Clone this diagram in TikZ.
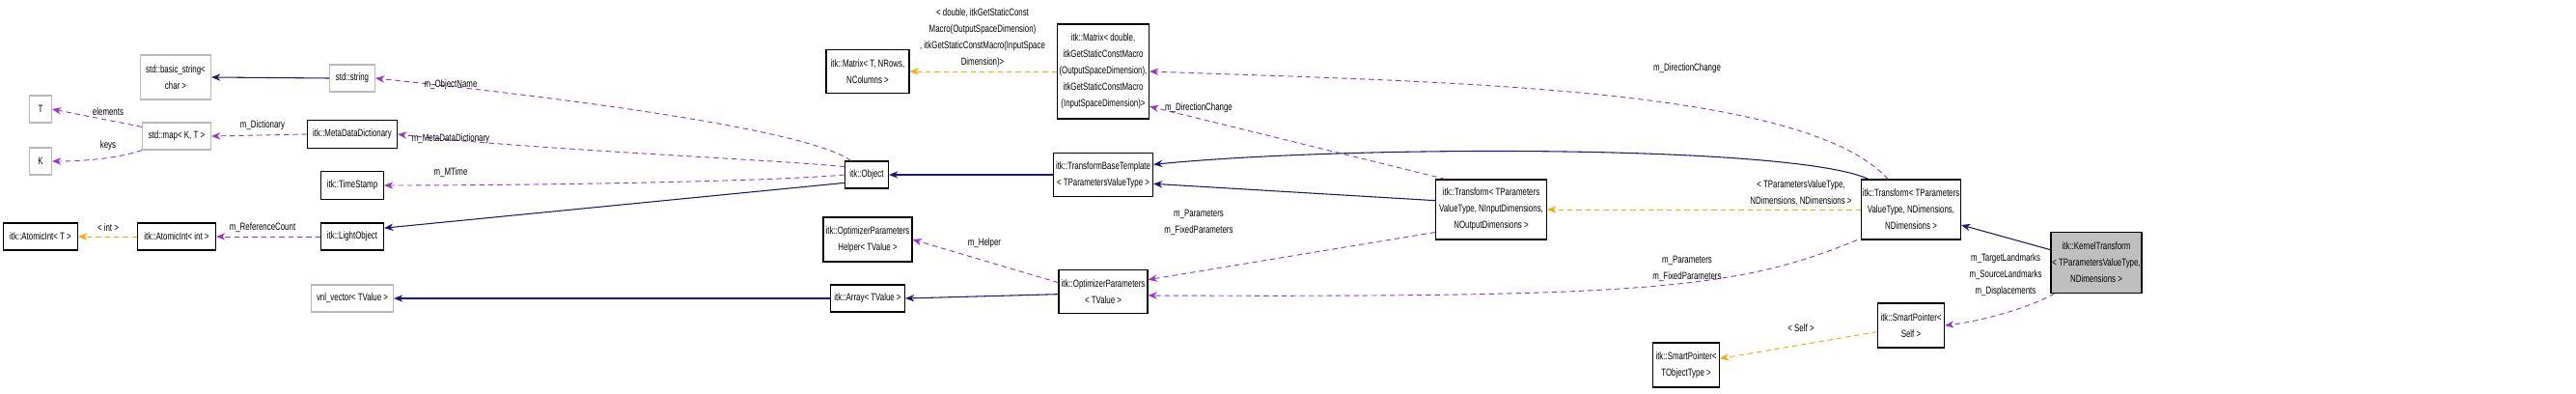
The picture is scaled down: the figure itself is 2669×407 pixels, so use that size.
\documentclass[tikz,border=0pt]{standalone}
\usepackage{fontspec}
\setmainfont{Liberation Sans}[FakeStretch=0.74]
\usetikzlibrary{arrows.meta}
\definecolor{navy}{HTML}{191970}
\definecolor{purp}{HTML}{9A32CD}
\definecolor{orng}{HTML}{FFA500}
\begin{document}
\begin{tikzpicture}[x=0.75pt,y=-0.75pt,
  font=\fontsize{8}{12.8}\selectfont,
  box/.style={draw=black,line width=0.8pt,align=center,inner sep=1pt,fill=white},
  ubox/.style={draw=gray!55,line width=0.8pt,align=center,inner sep=1pt,fill=white},
  tip/.style={-{Stealth[length=7pt,width=5.5pt]}},
  inh/.style={tip,draw=navy,line width=0.8pt},
  mem/.style={tip,draw=purp,dashed,dash pattern=on 4pt off 3pt,line width=0.7pt},
  tpl/.style={tip,draw=orng,dashed,dash pattern=on 4pt off 3pt,line width=0.7pt},
  lab/.style={align=center,inner sep=0pt}]
\useasboundingbox (0,0) rectangle (2669,407);
% nodes
\node[ubox,minimum width=73*0.75pt,minimum height=46*0.75pt] (bs) at (182,80) {std::basic\_string\textless\\char \textgreater};
\node[ubox,minimum width=47*0.75pt,minimum height=28*0.75pt] (str) at (365,81) {std::string};
\node[ubox,minimum width=23*0.75pt,minimum height=28*0.75pt] (T) at (42,113) {T};
\node[ubox,minimum width=23*0.75pt,minimum height=28*0.75pt] (K) at (42,167) {K};
\node[ubox,minimum width=71*0.75pt,minimum height=28*0.75pt] (map) at (183,141) {std::map\textless{} K, T \textgreater};
\node[box,minimum width=93*0.75pt,minimum height=29*0.75pt] (mdd) at (365,139) {itk::MetaDataDictionary};
\node[box,minimum width=65*0.75pt,minimum height=29*0.75pt] (ts) at (365,192) {itk::TimeStamp};
\node[box,minimum width=77*0.75pt,minimum height=28*0.75pt] (aiT) at (42,245) {itk::AtomicInt\textless{} T \textgreater};
\node[box,minimum width=81*0.75pt,minimum height=28*0.75pt] (aiI) at (183,245) {itk::AtomicInt\textless{} int \textgreater};
\node[box,minimum width=65*0.75pt,minimum height=28*0.75pt] (lo) at (365,245) {itk::LightObject};
\node[ubox,minimum width=85*0.75pt,minimum height=28*0.75pt] (vnl) at (365,309) {vnl\_vector\textless{} TValue \textgreater};
\node[box,minimum width=45*0.75pt,minimum height=28*0.75pt] (obj) at (898,181) {itk::Object};
\node[box,minimum width=86*0.75pt,minimum height=45*0.75pt] (mT) at (899,74) {itk::Matrix\textless{} T, NRows,\\NColumns \textgreater};
\node[box,minimum width=95*0.75pt,minimum height=98*0.75pt] (mD) at (1143,74) {itk::Matrix\textless{} double,\\itkGetStaticConstMacro\\(OutputSpaceDimension),\\itkGetStaticConstMacro\\(InputSpaceDimension)\textgreater};
\node[box,minimum width=103*0.75pt,minimum height=45*0.75pt] (tbt) at (1143,181) {itk::TransformBaseTemplate\\\textless{} TParametersValueType \textgreater};
\node[box,minimum width=92*0.75pt,minimum height=46*0.75pt] (oph) at (899,248) {itk::OptimizerParameters\\Helper\textless{} TValue \textgreater};
\node[box,minimum width=77*0.75pt,minimum height=28*0.75pt] (arr) at (899,309) {itk::Array\textless{} TValue \textgreater};
\node[box,minimum width=92*0.75pt,minimum height=45*0.75pt] (op) at (1143,302) {itk::OptimizerParameters\\\textless{} TValue \textgreater};
\node[box,minimum width=115*0.75pt,minimum height=62*0.75pt] (trI) at (1545,217) {itk::Transform\textless{} TParameters\\ValueType, NInputDimensions,\\NOutputDimensions \textgreater};
\node[box,minimum width=103*0.75pt,minimum height=62*0.75pt] (trN) at (1980,217) {itk::Transform\textless{} TParameters\\ValueType, NDimensions,\\NDimensions \textgreater};
\node[box,fill=gray!50,minimum width=94*0.75pt,minimum height=63*0.75pt] (kt) at (2172,272) {itk::KernelTransform\\\textless{} TParametersValueType,\\NDimensions \textgreater};
\node[box,minimum width=69*0.75pt,minimum height=46*0.75pt] (spS) at (1980,337) {itk::SmartPointer\textless\\Self \textgreater};
\node[box,minimum width=69*0.75pt,minimum height=46*0.75pt] (spT) at (1747,378) {itk::SmartPointer\textless\\TObjectType \textgreater};
% edges
\draw[inh] (str.west) -- (bs.east);
\draw[mem] (map.165) -- (T.east);
\draw[mem] (map.south west) .. controls (120,165) and (80,167) .. (K.east);
\draw[mem] (mdd.west) -- (map.east);
\draw[mem] ([xshift=5pt]obj.north west) .. controls (860,150) and (760,120) .. (str.east);
\draw[mem] (obj.160) .. controls (800,165) and (550,155) .. (mdd.east);
\draw[mem] (obj.west) .. controls (800,188) and (550,192) .. (ts.east);
\draw[inh] (obj.200) -- (lo.15);
\draw[tpl] (aiI.west) -- (aiT.east);
\draw[mem] (lo.west) -- (aiI.east);
\draw[inh] (arr.west) -- (vnl.east);
\draw[tpl] (mD.west |- mT.east) -- (mT.east);
\draw[inh] (tbt.west) -- (obj.east);
\draw[mem] ([xshift=8pt]trI.north west) -- ([yshift=10pt]mD.south east);
\draw[mem] ([xshift=-18pt]trN.north) .. controls (1870,90) and (1500,85) .. (mD.east);
\draw[inh] ([yshift=7pt]trI.west) -- ([yshift=-7pt]tbt.east);
\draw[inh] ([xshift=-33pt]trN.north) .. controls (1860,150) and (1400,150) .. ([yshift=8pt]tbt.east);
\draw[mem] ([yshift=7pt]op.west) -- (oph.east);
\draw[inh] ([yshift=-2pt]op.west) -- (arr.east);
\draw[mem] ([yshift=6pt]trI.south west) -- ([yshift=-8pt]op.north east);
\draw[mem] ([xshift=-3pt]trN.south west) .. controls (1800,300) and (1700,308) .. ([yshift=-3pt]op.east);
\draw[tpl] (trN.west) -- (trI.east);
\draw[inh] ([yshift=10pt]kt.west) -- ([yshift=-12pt]trN.east);
\draw[mem] ([xshift=3pt]kt.south west) .. controls (2100,320) and (2050,333) .. (spS.east);
\draw[tpl] ([yshift=-5pt]spS.west) -- ([yshift=5pt]spT.east);
% labels
\node[lab] (l1) at (112,116) {elements};
\node[lab] (l2) at (112,151) {keys};
\node[lab] (l3) at (272,130) {m\_Dictionary};
\node[lab] (l4) at (467,88) {m\_ObjectName};
\node[lab] (l5) at (467,144) {m\_MetaDataDictionary};
\node[lab] (l6) at (467,179) {m\_MTime};
\node[lab] (l7) at (112,236) {\textless{} int \textgreater};
\node[lab] (l8) at (272,236) {m\_ReferenceCount};
\node[lab] (l9) at (1018,39) {\textless{} double, itkGetStaticConst\\Macro(OutputSpaceDimension)\\, itkGetStaticConstMacro(InputSpace\\Dimension)\textgreater};
\node[lab] (l10) at (1242,112) {m\_DirectionChange};
\node[lab] (l11) at (1242,230) {m\_Parameters\\m\_FixedParameters};
\node[lab] (l12) at (1020,252) {m\_Helper};
\node[lab] (l13) at (1748,71) {m\_DirectionChange};
\node[lab] (l14) at (1866,200) {\textless{} TParametersValueType,\\NDimensions, NDimensions \textgreater};
\node[lab] (l15) at (1748,278) {m\_Parameters\\m\_FixedParameters};
\node[lab] (l16) at (2078,285) {m\_TargetLandmarks\\m\_SourceLandmarks\\m\_Displacements};
\node[lab] (l17) at (1866,340) {\textless{} Self \textgreater};
\end{tikzpicture}
\end{document}
